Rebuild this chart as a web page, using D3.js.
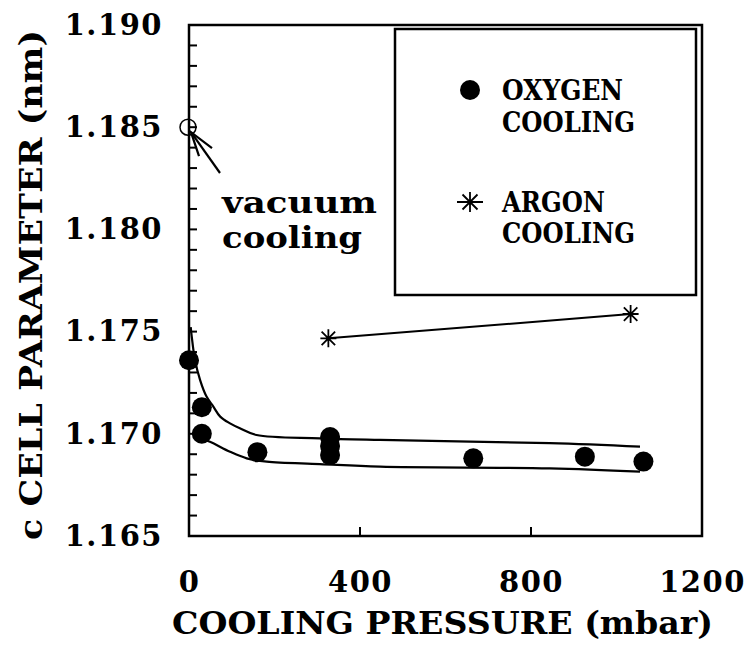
<!DOCTYPE html>
<html>
<head>
<meta charset="utf-8">
<script src="https://cdn.jsdelivr.net/npm/d3@7"></script>
<style>
  body { margin: 0; background: #fff; }
  svg text { font-family: "DejaVu Serif", serif; font-weight: bold; fill: #000; }
</style>
</head>
<body>
<svg id="svg" width="752" height="646"></svg>
<script>
// values
var oxygenP = [0, 30, 30, 160, 330, 330, 330, 665, 926, 1063];
var oxygenC = [1.1736, 1.1713, 1.1700, 1.1691, 1.16984, 1.1694, 1.16896, 1.1688, 1.16888, 1.16864];
var argonP = [326, 1033];
var argonC = [1.17467, 1.17586];
var vacuumP = [0];
var vacuumC = [1.185];
// the two fitted curves
var upperP = [4, 6, 14, 26, 41, 57, 73, 96, 119, 158, 306, 447, 844, 1055];
var upperC = [1.17522, 1.17483, 1.17361, 1.17263, 1.17182, 1.17133, 1.17084, 1.17051, 1.17027, 1.16994, 1.16978, 1.1697, 1.16954, 1.16937];
var lowerP = [9, 26, 49, 96, 135, 182, 306, 447, 844, 1055];
var lowerC = [1.17004, 1.16978, 1.16961, 1.16912, 1.1688, 1.16864, 1.16852, 1.16839, 1.16831, 1.16815];

var xTicks = [0, 400, 800, 1200];
var xTickLabels = ["0", "400", "800", "1200"];
var yTicks = [1.165, 1.170, 1.175, 1.180, 1.185, 1.190];
var yTickLabels = ["1.165", "1.170", "1.175", "1.180", "1.185", "1.190"];
var legendNames = [["OXYGEN", "COOLING"], ["ARGON", "COOLING"]];

var svg = d3.select("#svg");
var x = d3.scaleLinear().domain([0, 1200]).range([189, 702]);
var y = d3.scaleLinear().domain([1.165, 1.190]).range([536, 25]);

function starPath(rx, ry) {
  var d = ry * 0.75;
  return "M" + (-rx) + ",0L" + rx + ",0M0," + (-ry) + "L0," + ry +
    "M" + (-d) + "," + (-d) + "L" + d + "," + d + "M" + (-d) + "," + d + "L" + d + "," + (-d);
}

var yAxis = svg.append("g").attr("transform", "translate(" + x(0) + ",0)")
  .call(d3.axisLeft(y).tickValues(yTicks).tickSize(0).tickPadding(26)
    .tickFormat(function(d, i){ return yTickLabels[i]; }));
yAxis.selectAll(".domain, line").remove();
yAxis.selectAll("text").style("font-size", "29px").attr("letter-spacing", "1.5");

var xAxis = svg.append("g").attr("transform", "translate(0," + y(1.165) + ")")
  .call(d3.axisBottom(x).tickValues(xTicks).tickSize(0).tickPadding(0)
    .tickFormat(function(d, i){ return xTickLabels[i]; }));
xAxis.selectAll(".domain, line").remove();
xAxis.selectAll("text").style("font-size", "29px").attr("dy", null).attr("y", 56).attr("letter-spacing", "1.5");

// frame
svg.append("rect").attr("x", x(0)).attr("y", y(1.190))
  .attr("width", x(1200) - x(0)).attr("height", y(1.165) - y(1.190))
  .style("fill", "none").style("stroke", "#000").style("stroke-width", "2.5px");

// y ticks every 0.001, pointing into the plot
var yAll = y.ticks(25);
var tickG = svg.append("g").style("stroke", "#000").style("stroke-width", "2px");
tickG.selectAll(".yt").data(yAll).enter().append("line").attr("class", "yt")
  .attr("x1", x(0)).attr("x2", x(0) + 8)
  .attr("y1", function(d){ return y(d); }).attr("y2", function(d){ return y(d); });
tickG.selectAll(".xt").data(xTicks).enter().append("line").attr("class", "xt")
  .attr("x1", function(d){ return x(d); }).attr("x2", function(d){ return x(d); })
  .attr("y1", y(1.165)).attr("y2", y(1.165) - 9);

// axis titles
svg.append("text").attr("x", 172).attr("y", 634).attr("textLength", 541)
  .attr("lengthAdjust", "spacingAndGlyphs").style("font-size", "31px")
  .text("COOLING PRESSURE (mbar)");
svg.append("text").attr("transform", "translate(42,285) rotate(-90)")
  .attr("text-anchor", "middle").attr("textLength", 510)
  .attr("lengthAdjust", "spacingAndGlyphs").style("font-size", "32px")
  .text("c CELL PARAMETER (nm)");

// fitted curves
var line = d3.line().x(function(d){ return x(d[0]); }).y(function(d){ return y(d[1]); }).curve(d3.curveCatmullRom.alpha(0.5));
[[upperP, upperC], [lowerP, lowerC]].forEach(function(s) {
  svg.append("path").datum(d3.zip(s[0], s[1])).attr("d", line)
    .attr("fill", "none").attr("stroke", "#000").attr("stroke-width", 2.2);
});

// argon
svg.append("path").datum(d3.zip(argonP, argonC)).attr("d", d3.line().x(function(d){ return x(d[0]); }).y(function(d){ return y(d[1]); }))
  .attr("fill", "none").attr("stroke", "#000").attr("stroke-width", 2);
svg.selectAll(".argon").data(d3.zip(argonP, argonC)).enter().append("path")
  .attr("class", "argon")
  .attr("transform", function(d){ return "translate(" + x(d[0]) + "," + y(d[1]) + ")"; })
  .attr("d", starPath(8, 9)).attr("stroke", "#000").attr("stroke-width", 1.8).attr("fill", "none");

// oxygen
svg.selectAll(".oxy").data(d3.zip(oxygenP, oxygenC)).enter().append("circle")
  .attr("class", "oxy")
  .attr("cx", function(d){ return x(d[0]); }).attr("cy", function(d){ return y(d[1]); })
  .attr("r", 10).attr("fill", "#000");

// vacuum
svg.selectAll(".vac").data(d3.zip(vacuumP, vacuumC)).enter().append("circle")
  .attr("class", "vac")
  .attr("cx", function(d){ return x(d[0]) - 1; }).attr("cy", function(d){ return y(d[1]); })
  .attr("r", 8).attr("fill", "none").attr("stroke", "#000").attr("stroke-width", 1.5);

// arrow to the vacuum point
var tipX = x(vacuumP[0]) + 2, tipY = y(vacuumC[0]) + 5;
var arrow = svg.append("g").attr("stroke", "#000").attr("stroke-width", 2.2).attr("fill", "none");
arrow.append("line").attr("x1", 220).attr("y1", 173).attr("x2", tipX).attr("y2", tipY);
arrow.append("path").attr("d", "M" + (tipX + 21) + "," + (tipY + 16) + "L" + tipX + "," + tipY + "L" + (tipX + 8) + "," + (tipY + 24));

svg.append("text").attr("x", 222).attr("y", 213).attr("textLength", 155)
  .attr("lengthAdjust", "spacingAndGlyphs").style("font-size", "30px").text("vacuum");
svg.append("text").attr("x", 222).attr("y", 248).attr("textLength", 140)
  .attr("lengthAdjust", "spacingAndGlyphs").style("font-size", "30px").text("cooling");

// legend
svg.append("rect").attr("x", 395).attr("y", 29).attr("width", 301).attr("height", 266)
  .attr("fill", "#fff").attr("stroke", "#000").attr("stroke-width", 2.5);
var lg = svg.append("g");
lg.append("circle").attr("cx", 470).attr("cy", 90).attr("r", 10).attr("fill", "#000");
lg.append("path").attr("transform", "translate(470,202)").attr("d", starPath(13, 10))
  .attr("stroke", "#000").attr("stroke-width", 1.8).attr("fill", "none");
var rows = [[100, 132], [212, 243]];
var widths = [[121, 133], [103, 133]];
legendNames.forEach(function(n, i) {
  n.forEach(function(t, j) {
    lg.append("text").attr("x", 502).attr("y", rows[i][j]).attr("textLength", widths[i][j])
      .attr("lengthAdjust", "spacingAndGlyphs").style("font-size", "27px").text(t);
  });
});
</script>
</body>
</html>
